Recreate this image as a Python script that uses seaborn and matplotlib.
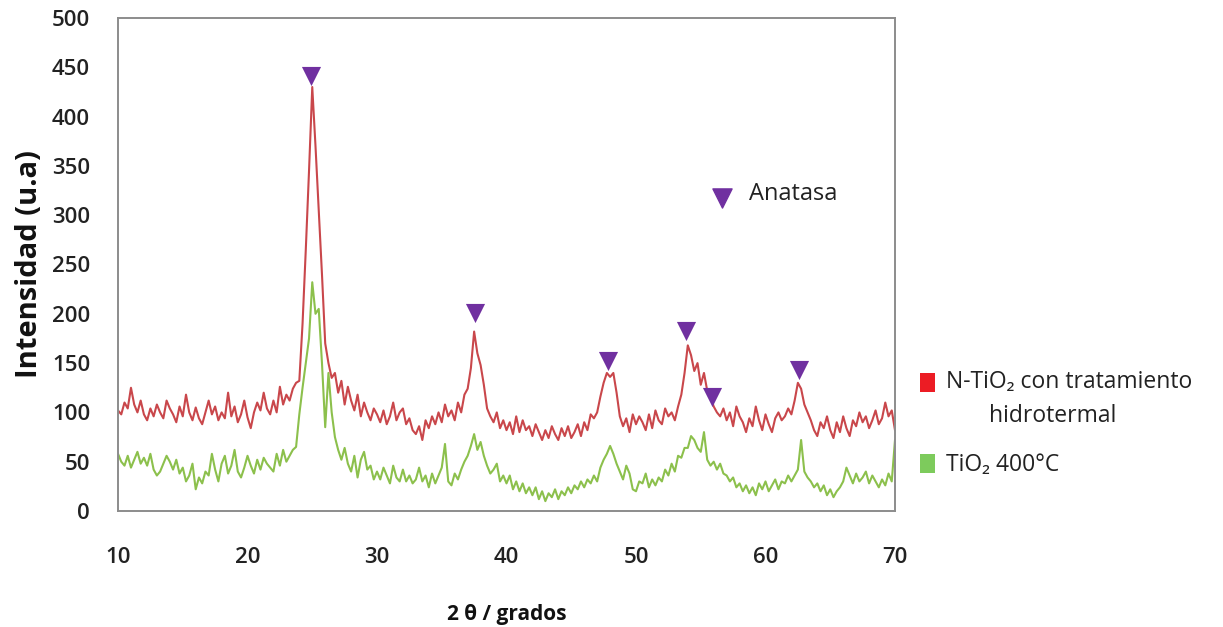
import numpy as np
import pandas as pd
import matplotlib
matplotlib.use("Agg")
import matplotlib.pyplot as plt
import seaborn as sns
from matplotlib.patches import Rectangle
from matplotlib.ticker import MultipleLocator

# Diffraction angle grid (degrees 2θ), 0.25° step
two_theta = np.round(np.arange(10.0, 70.0 + 1e-9, 0.25), 2)

# N-TiO2 with hydrothermal treatment
n_tio2 = [
    102, 98, 110, 104,   125, 108, 100, 112,   98, 92, 104, 96,     108, 100, 94, 112,
    104, 98, 90, 106,    96, 118, 100, 92,     105, 94, 88, 100,    112, 98, 106, 92,
    100, 94, 120, 96,    106, 90, 98, 112,     95, 84, 100, 110,    102, 120, 104, 98,
    112, 100, 126, 108,  118, 112, 124, 130,   132, 190, 265, 345,  430, 370, 305, 240,
    170, 150, 135, 140,  120, 132, 108, 126,   112, 102, 118, 96,   110, 100, 92, 104,
    98, 90, 102, 88,     96, 110, 92, 100,     104, 88, 94, 82,     78, 86, 72, 92,
    84, 96, 88, 100,     90, 108, 96, 102,     92, 110, 100, 118,   124, 145, 182, 160,
    148, 128, 104, 96,   90, 100, 84, 92,      82, 90, 78, 96,      80, 92, 82, 86,
    76, 88, 80, 72,      82, 74, 86, 78,       72, 84, 76, 86,      74, 80, 88, 76,
    90, 82, 98, 94,      100, 116, 130, 140,   136, 140, 120, 96,   86, 94, 80, 98,
    88, 96, 90, 82,      98, 84, 102, 92,      88, 104, 96, 100,    92, 106, 118, 140,
    168, 158, 142, 150,  128, 140, 122, 116,   106, 100, 96, 104,   92, 100, 86, 106,
    96, 90, 80, 94,      86, 106, 92, 82,      98, 88, 80, 94,      100, 92, 96, 104,
    98, 112, 130, 124,   108, 100, 92, 82,     76, 90, 84, 96,      82, 74, 90, 80,
    96, 84, 76, 92,      86, 100, 90, 96,      84, 92, 102, 88,     94, 110, 96, 102,
    82,
]

# TiO2 calcined at 400 °C
tio2_400 = [
    58, 50, 46, 56,      44, 52, 60, 48,       54, 46, 58, 42,      36, 40, 48, 56,
    50, 42, 52, 38,      44, 30, 36, 48,       22, 34, 28, 40,      36, 58, 42, 30,
    48, 56, 38, 46,      62, 40, 34, 44,       56, 46, 38, 52,      42, 54, 48, 44,
    40, 58, 46, 62,      50, 56, 62, 65,       98, 125, 150, 175,   232, 200, 205, 150,
    85, 140, 100, 75,    62, 52, 64, 48,       40, 56, 34, 52,      60, 42, 46, 32,
    40, 32, 44, 36,      28, 46, 34, 30,       42, 30, 36, 28,      32, 44, 30, 36,
    24, 38, 28, 36,      44, 68, 30, 26,       38, 32, 42, 50,      56, 66, 78, 62,
    70, 56, 46, 38,      42, 48, 30, 36,       28, 36, 22, 30,      20, 28, 18, 24,
    16, 24, 12, 20,      10, 18, 14, 22,       12, 20, 16, 24,      18, 26, 22, 30,
    24, 32, 28, 36,      30, 44, 52, 58,       66, 58, 48, 40,      32, 46, 38, 22,
    20, 30, 28, 38,      24, 32, 26, 34,       30, 42, 36, 48,      40, 56, 54, 64,
    64, 76, 72, 64,      60, 80, 52, 46,       50, 42, 48, 38,      36, 30, 34, 24,
    28, 20, 26, 18,      24, 16, 28, 22,       30, 20, 26, 32,      22, 30, 28, 36,
    30, 36, 42, 72,      40, 34, 30, 24,       28, 20, 26, 16,      22, 14, 20, 24,
    30, 44, 36, 28,      38, 30, 34, 40,       28, 36, 30, 24,      32, 26, 38, 30,
    72,
]

# Anatase reflections flagged with triangles
anatase_pos = [24.9, 37.6, 47.85, 53.85, 55.85, 62.6]
anatase_mark = [441, 201, 152, 183, 116, 143]

line_colors = ["#c9474b", "#8cc04c"]
legend_colors = ["#ec1c24", "#7dcb5c"]

df = pd.DataFrame({"two_theta": two_theta, "n_tio2": n_tio2, "tio2_400": tio2_400})

sns.set_style("white")
plt.rcParams["font.family"] = ["Open Sans", "DejaVu Sans"]

W, H = 1223, 627
fig = plt.figure(figsize=(W / 100, H / 100), dpi=100)
ax = fig.add_axes([0.0965, 0.185, 0.6353, 0.7863])

sns.lineplot(data=df, x="two_theta", y="tio2_400", ax=ax, color=line_colors[1], linewidth=1.5)
sns.lineplot(data=df, x="two_theta", y="n_tio2", ax=ax, color=line_colors[0], linewidth=1.5)
sns.scatterplot(x=anatase_pos, y=anatase_mark, ax=ax, marker="v", s=190,
                color="#7030a0", edgecolor="#7030a0", linewidth=0, zorder=5)

# Key for the triangle markers
ax.scatter([56.65], [317], marker="v", s=190, color="#7030a0", zorder=5)
ax.text(58.7, 322, "Anatasa", fontsize=17, va="center", ha="left", color="#222222")

ax.set_xlim(10, 70)
ax.set_ylim(0, 500)
ax.xaxis.set_major_locator(MultipleLocator(10))
ax.xaxis.set_minor_locator(MultipleLocator(2))
ax.yaxis.set_major_locator(MultipleLocator(50))

for sp in ax.spines.values():
    sp.set_color("#8c8c8c")
    sp.set_linewidth(1.4)

ax.tick_params(axis="x", which="major", direction="inout", length=12, width=1.3,
               color="#8c8c8c", pad=20, labelsize=16, labelcolor="#222222")
ax.tick_params(axis="x", which="minor", direction="out", length=5, width=1.1, color="#8c8c8c")
ax.tick_params(axis="y", which="major", length=0, pad=20, labelsize=16, labelcolor="#222222")
for lbl in ax.get_xticklabels() + ax.get_yticklabels():
    lbl.set_fontweight("semibold")

ax.set_xlabel("2 θ / grados", fontsize=15, fontweight="bold", labelpad=26, color="#111111")
ax.set_ylabel("Intensidad (u.a)", fontsize=21, fontweight="bold", labelpad=6, color="#111111")

# Series key on the right-hand side
def fx(px):
    return px / W

def fy(py):
    return 1 - py / H

fig.add_artist(Rectangle((fx(920), fy(392)), 15 / W, 19 / H, transform=fig.transFigure,
                         facecolor=legend_colors[0], edgecolor="none"))
fig.add_artist(Rectangle((fx(920), fy(473)), 15 / W, 19 / H, transform=fig.transFigure,
                         facecolor=legend_colors[1], edgecolor="none"))
fig.text(fx(946), fy(382), "N-TiO\u2082 con tratamiento", fontsize=16.5, va="center",
         ha="left", color="#222222")
fig.text(fx(989), fy(416), "hidrotermal", fontsize=16.5, va="center", ha="left", color="#222222")
fig.text(fx(946), fy(465), "TiO\u2082 400°C", fontsize=16.5, va="center", ha="left", color="#222222")

fig.savefig("out.png", dpi=100)
